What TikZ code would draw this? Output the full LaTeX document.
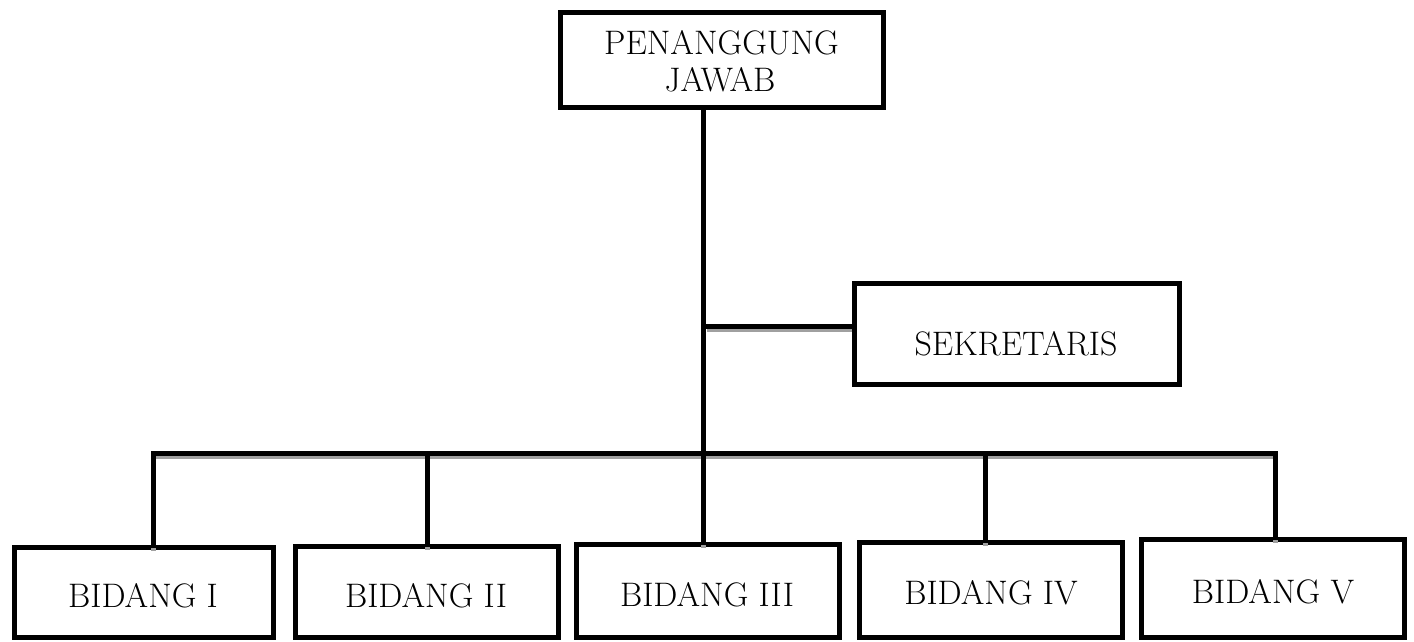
\documentclass[tikz,border=0pt]{standalone}
\usetikzlibrary{calc}
\definecolor{shadowgray}{RGB}{160,160,160}
\begin{document}
\begin{tikzpicture}[x=0.5pt,y=-0.5pt,
  box/.style={draw, rectangle, line width=2.5pt, inner sep=0pt, fill=white},
  lbl/.style={font=\fontsize{17}{20}\selectfont, anchor=base, inner sep=0pt},
  conn/.style={line width=2.5pt, line cap=rect},
  shade/.style={line width=2.5pt, draw=shadowgray}]
\useasboundingbox (0,0) rectangle (1414,642);
% boxes
\node[box, minimum width=161.5pt, minimum height=47.5pt] (pj) at (722,60) {};
\node[box, minimum width=162.5pt, minimum height=50.5pt] (sek) at (1017,334) {};
\node[box, minimum width=129.5pt, minimum height=45pt] (bid1) at (144,592.5) {};
\node[box, minimum width=131.5pt, minimum height=45.5pt] (bid2) at (427,592) {};
\node[box, minimum width=131.5pt, minimum height=46.5pt] (bid3) at (708,591) {};
\node[box, minimum width=131.5pt, minimum height=47.5pt] (bid4) at (991,590) {};
\node[box, minimum width=131.5pt, minimum height=49pt] (bid5) at (1273,588.5) {};
% junction coordinates
\coordinate (sj) at (703,326);
\coordinate (b1) at (153,453);
\coordinate (b2) at (427,453);
\coordinate (b3) at (703,453);
\coordinate (b4) at (985,453);
\coordinate (b5) at (1275,453);
% shadows
\draw[shade] ($(sj)+(4,3)$) -- ($(sj -| sek.west)+(0,3)$);
\draw[shade] ($(b1)+(0,3)$) -- ($(b5)+(0,3)$);
\foreach \i in {1,...,5} {
  \draw[shade] (b\i) -- ($(b\i |- bid\i.north)+(0,6)$);
}
% connectors
\draw[conn] (pj.south -| b3) -- (b3);
\draw[conn] (sj) -- (sj -| sek.west);
\draw[conn] (b1) -- (b5);
\foreach \i in {1,...,5} {
  \draw[conn] (b\i) -- (b\i |- bid\i.north);
}
% labels
\node[lbl] (pjtxtA) at (721.5,55) {PENANGGUNG};
\node[lbl] (pjtxtB) at (720,92) {JAWAB};
\node[lbl] (sektxt) at (1016,355) {SEKRETARIS};
\node[lbl] (bid1txt) at (143,607) {BIDANG I};
\node[lbl] (bid2txt) at (426,607) {BIDANG II};
\node[lbl] (bid3txt) at (707,606) {BIDANG III};
\node[lbl] (bid4txt) at (991,604) {BIDANG IV};
\node[lbl] (bid5txt) at (1273,603) {BIDANG V};
\end{tikzpicture}
\end{document}
